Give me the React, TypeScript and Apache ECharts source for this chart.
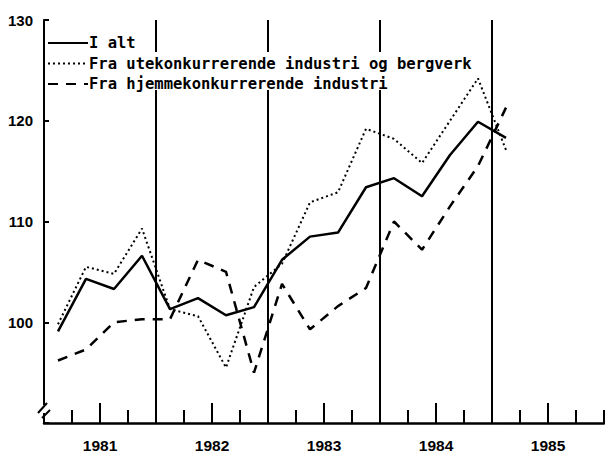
import React, { useEffect, useRef } from "react";
import * as echarts from "echarts";

const quarters = [
  "1981K1", "1981K2", "1981K3", "1981K4",
  "1982K1", "1982K2", "1982K3", "1982K4",
  "1983K1", "1983K2", "1983K3", "1983K4",
  "1984K1", "1984K2", "1984K3", "1984K4",
  "1985K1", "1985K2", "1985K3", "1985K4",
];
const years = ["1981", "1982", "1983", "1984", "1985"];

const iAlt = [99.1, 104.3, 103.3, 106.6, 101.3, 102.4, 100.7, 101.5, 106.2, 108.5, 108.9, 113.4, 114.3, 112.5, 116.6, 119.9, 118.3];
const ute = [99.8, 105.5, 104.8, 109.3, 101.3, 100.6, 95.5, 103.5, 105.8, 111.9, 112.9, 119.2, 118.2, 115.8, 120.0, 124.2, 117.1];
const hjemme = [96.2, 97.3, 100.0, 100.3, 100.3, 106.2, 105.0, 95.0, 103.8, 99.3, 101.6, 103.4, 110.0, 107.2, 111.5, 115.5, 121.3];

const seriesNames = [
  "I alt",
  "Fra utekonkurrerende industri og bergverk",
  "Fra hjemmekonkurrerende industri",
];
const yTicks = [100, 110, 120, 130];

export default function App() {
  const ref = useRef<HTMLDivElement>(null);
  useEffect(() => {
    if (!ref.current) return;
    const chart = echarts.init(ref.current, null, { renderer: "svg" });
    const labelFont = { fontFamily: "Liberation Sans", fontWeight: "bold" as const, fontSize: 15, color: "#000" };
    chart.setOption({
      animation: false,
      backgroundColor: "#fff",
      grid: { left: 44, right: 1, top: 20, bottom: 31, outerBoundsMode: "none" },
      legend: {
        orient: "vertical",
        left: 47,
        top: 35,
        padding: 0,
        itemWidth: 40,
        itemHeight: 14,
        itemGap: 4.5,
        data: seriesNames,
        itemStyle: { opacity: 0 },
        textStyle: { fontFamily: "DejaVu Sans Mono", fontWeight: "bold", fontSize: 15.5, color: "#000", padding: [0, 0, 0, -4] },
        z: 10,
      },
      xAxis: [
        {
          type: "category",
          data: quarters,
          position: "bottom",
          boundaryGap: true,
          axisLine: { show: true, lineStyle: { color: "#000", width: 2.5 } },
          axisTick: { show: true, inside: true, length: 13, interval: 0, lineStyle: { color: "#000", width: 2 } },
          axisLabel: { show: false },
          splitLine: { show: false },
        },
        {
          type: "category",
          data: years,
          position: "bottom",
          boundaryGap: true,
          axisLine: { show: false },
          axisTick: { show: true, inside: true, alignWithLabel: true, length: 20, interval: 0, lineStyle: { color: "#000", width: 2 } },
          axisLabel: { show: true, interval: 0, margin: 14, ...labelFont, fontSize: 15.5 },
          splitLine: { show: true, interval: 0, showMinLine: false, showMaxLine: false, lineStyle: { color: "#000", width: 2 } },
        },
      ],
      yAxis: {
        type: "value",
        min: 90,
        max: 130,
        interval: 10,
        axisLine: { show: true, lineStyle: { color: "#000", width: 2 } },
        axisTick: { show: true, inside: true, length: 5, lineStyle: { color: "#000", width: 2 } },
        axisLabel: {
          margin: 11,
          formatter: (v: number) => (yTicks.includes(v) ? String(v) : ""),
          ...labelFont,
        },
        splitLine: { show: false },
      },
      graphic: [
        { type: "rect", z: 1, shape: { x: 47, y: 52, width: 431, height: 19 }, style: { fill: "#fff" } },
        { type: "rect", z: 1, shape: { x: 47, y: 70, width: 345, height: 20 }, style: { fill: "#fff" } },
        { type: "rect", z: 50, shape: { x: 40, y: 405, width: 10, height: 8 }, style: { fill: "#fff" } },
        { type: "line", z: 51, shape: { x1: 38, y1: 413, x2: 47, y2: 403 }, style: { stroke: "#000", lineWidth: 2 } },
        { type: "line", z: 51, shape: { x1: 42, y1: 418, x2: 50, y2: 410 }, style: { stroke: "#000", lineWidth: 2 } },
      ],
      series: [
        {
          name: seriesNames[0],
          type: "line",
          data: iAlt,
          symbol: "none",
          lineStyle: { color: "#000", width: 2.5, type: "solid" },
          itemStyle: { color: "#000" },
        },
        {
          name: seriesNames[1],
          type: "line",
          data: ute,
          symbol: "none",
          lineStyle: { color: "#000", width: 2, type: [2, 3] },
          itemStyle: { color: "#000" },
        },
        {
          name: seriesNames[2],
          type: "line",
          data: hjemme,
          symbol: "none",
          lineStyle: { color: "#000", width: 2.5, type: [10, 8] },
          itemStyle: { color: "#000" },
        },
      ],
    });
    return () => chart.dispose();
  }, []);
  return <div ref={ref} style={{ width: 605, height: 454, position: "fixed", left: 0, top: 0 }} />;
}
